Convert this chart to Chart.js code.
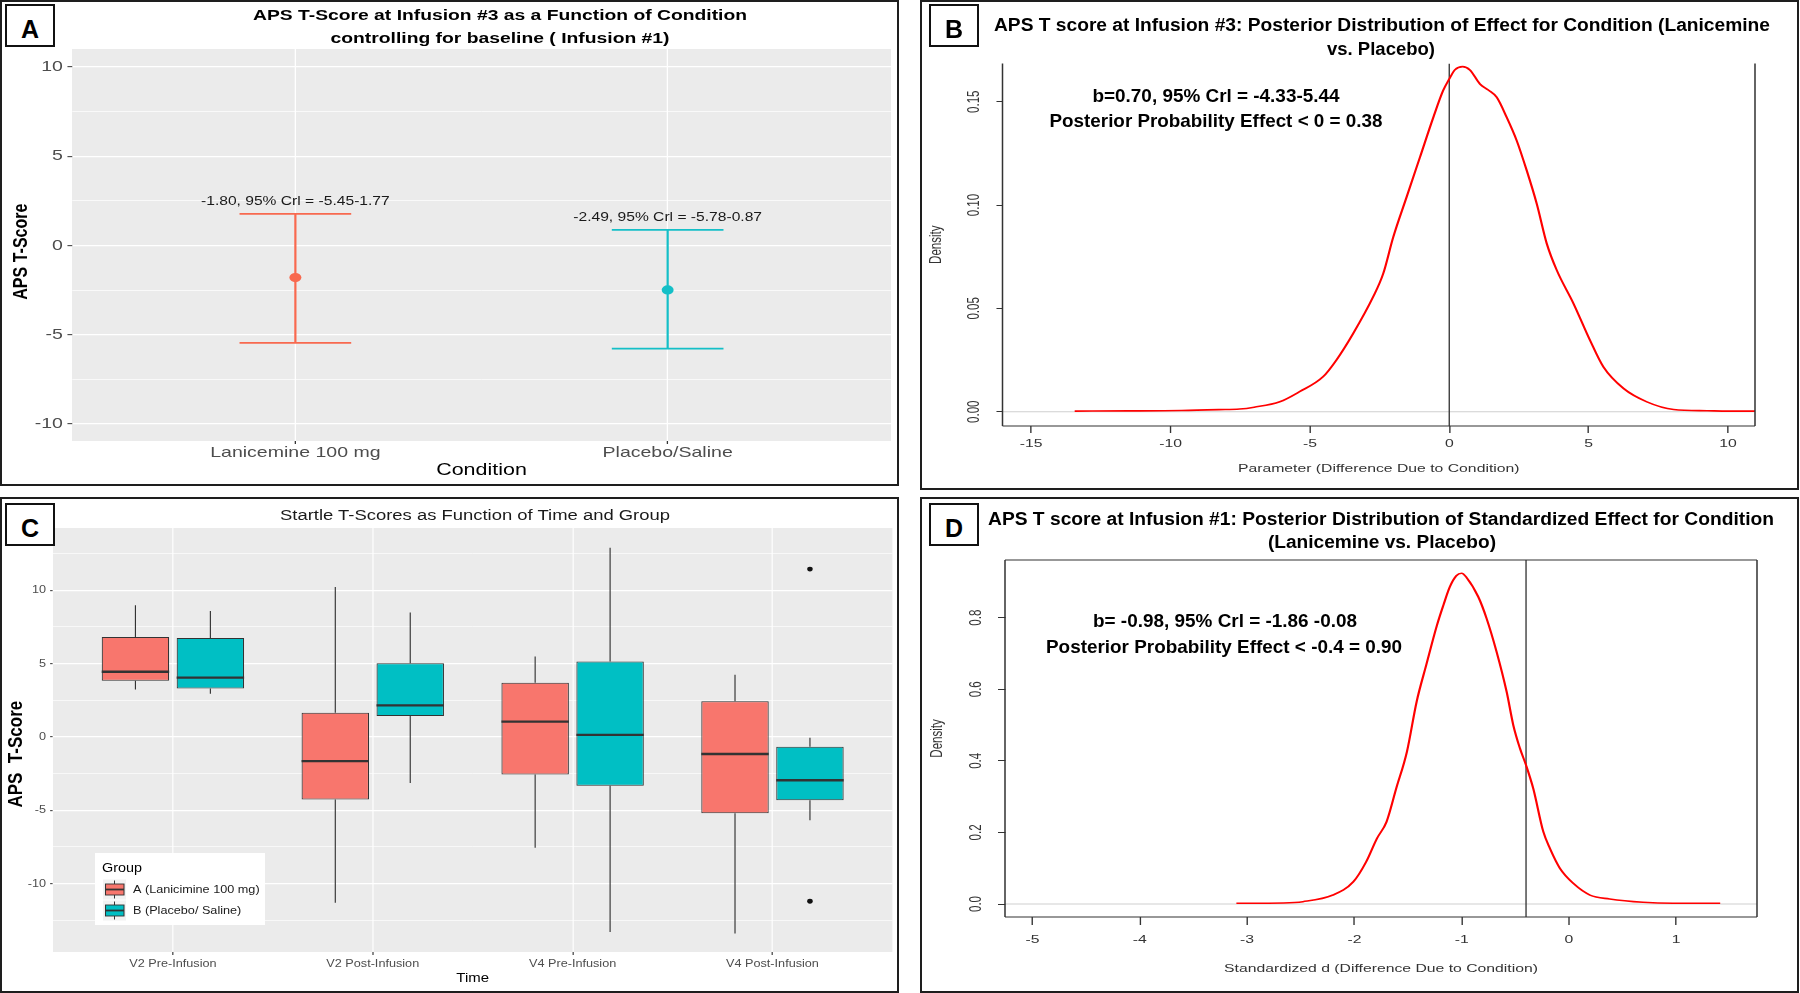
<!DOCTYPE html>
<html>
<head>
<meta charset="utf-8">
<script src="https://cdn.jsdelivr.net/npm/chart.js@4.4.1/dist/chart.umd.min.js"></script>
<style>
  body { margin: 0; width: 1800px; height: 993px; background: #fff; position: relative; overflow: hidden; }
  .panel { position: absolute; border: 2px solid #1e1e1e; box-sizing: border-box; background: #fff; }
  .panel canvas { position: absolute; left: 0; top: 0; }
  .letterbox { position: absolute; width: 50px; height: 43px; border: 2px solid #111; box-sizing: border-box; background: #fff; }
  .txt { position: absolute; white-space: nowrap; line-height: 1; }
</style>
</head>
<body>
<div class="panel" style="left:0;top:0;width:899px;height:486px"><canvas id="cA"></canvas></div>
<div class="panel" style="left:920px;top:0;width:879px;height:490px"><canvas id="cB"></canvas></div>
<div class="panel" style="left:0;top:497px;width:899px;height:496px"><canvas id="cC"></canvas></div>
<div class="panel" style="left:920px;top:497px;width:879px;height:496px"><canvas id="cD"></canvas></div>

<script>
// ---- panel A: APS T-score at infusion #3 ----
const conditions = ['Lanicemine 100 mg', 'Placebo/Saline'];
const aEst = [-1.80, -2.49];
const aLow = [-5.45, -5.78];
const aHigh = [1.77, 0.87];
const aLabels = ['-1.80, 95% Crl = -5.45-1.77', '-2.49, 95% Crl = -5.78-0.87'];
const aYTicks = [-10, -7.5, -5, -2.5, 0, 2.5, 5, 7.5, 10];

// ---- panel B: posterior of effect ----
const bX = [-13.44, -11.5, -9.6, -8.27, -7.52, -7.0, -6.08, -5.37, -4.53, -4.05, -3.45, -2.73, -2.37, -2.01,
  -1.53, -1.05, -0.57, -0.22, 0, 0.2, 0.48, 0.74, 1.1, 1.4, 1.7, 2.06, 2.42, 2.78, 3.14, 3.5, 3.86, 4.46,
  5.05, 5.53, 6.25, 7.09, 8.05, 9.25, 10.0, 10.97];
const bY = [0.0003, 0.0004, 0.0006, 0.001, 0.0013, 0.0022, 0.0048, 0.0097, 0.0169, 0.025, 0.0378, 0.0556, 0.0668, 0.0845,
  0.1039, 0.1232, 0.1425, 0.1554, 0.161, 0.1654, 0.167, 0.1654, 0.1586, 0.1557, 0.1522, 0.1425, 0.1312, 0.1167, 0.1006, 0.0813, 0.0684, 0.0523,
  0.0346, 0.0217, 0.0113, 0.0048, 0.0011, 0.0005, 0.0003, 0.0003];
const bXTicks = [-15, -10, -5, 0, 5, 10];
const bYTicks = [0, 0.05, 0.10, 0.15];
const bXRange = [-16.03, 10.97];
const bYRange = [-0.0069, 0.1685];
const bRef = 0;

// ---- panel C: startle boxplots ----
const times = ['V2 Pre-Infusion', 'V2 Post-Infusion', 'V4 Pre-Infusion', 'V4 Post-Infusion'];
const groups = ['A (Lanicimine 100 mg)', 'B (Placebo/ Saline)'];
const cLoA  = [3.23, -11.3, -7.55, -13.4];
const cQ1A  = [3.84, -4.27, -2.55, -5.2];
const cMedA = [4.45, -1.64, 1.05, -1.16];
const cQ3A  = [6.82, 1.66, 3.70, 2.43];
const cHiA  = [8.98, 10.23, 5.48, 4.25];
const cLoB  = [2.95, -3.14, -13.3, -5.68];
const cQ1B  = [3.30, 1.43, -3.32, -4.32];
const cMedB = [4.05, 2.16, 0.14, -2.95];
const cQ3B  = [6.75, 5.02, 5.14, -0.66];
const cHiB  = [8.59, 8.48, 12.9, -0.05];
const cOutTime = [3, 3];          // index into times, group B
const cOutVal = [11.45, -11.2];
const cYTicks = [-12.5, -10, -7.5, -5, -2.5, 0, 2.5, 5, 7.5, 10, 12.5];

// ---- panel D: posterior of standardized effect ----
const dX = [-3.1, -2.66, -2.48, -2.2, -2.01, -1.89, -1.79, -1.70, -1.61, -1.51, -1.42, -1.33, -1.23, -1.17, -1.11,
  -1.05, -1.0, -0.954, -0.845, -0.768, -0.675, -0.581, -0.519, -0.457, -0.40, -0.333, -0.239, -0.177, -0.084,
  0.04, 0.196, 0.38, 0.69, 0.97, 1.41];
const dY = [0.002, 0.003, 0.0065, 0.025, 0.062, 0.118, 0.183, 0.23, 0.323, 0.426, 0.565, 0.668, 0.779, 0.835, 0.886,
  0.917, 0.924, 0.912, 0.858, 0.798, 0.705, 0.593, 0.50, 0.435, 0.388, 0.323, 0.202, 0.155, 0.0996,
  0.0577, 0.025, 0.014, 0.0047, 0.002, 0.002];
const dXTicks = [-5, -4, -3, -2, -1, 0, 1];
const dYTicks = [0, 0.2, 0.4, 0.6, 0.8];
const dXRange = [-5.257, 1.753];
const dYRange = [-0.0363, 0.961];
const dRef = -0.4;

Chart.defaults.font.family = '"Liberation Sans", Arial, sans-serif';
Chart.defaults.color = '#333';

const colA = ['#F8694F', '#14BFC7'];
const colC = ['#F8766D', '#00BFC4'];
const dodge = [-0.1875, 0.1875];
const halfBox = 0.16875;

// the source figure is stretched sideways, so each chart is drawn narrow and widened
const sOf = c => c.canvas.width / c.width;
const stretch = { id: 'stretch', beforeDraw: c => c.ctx.setTransform(sOf(c), 0, 0, 1, 0, 0) };
const greyBg = { id: 'greyBg', beforeDraw: c => {
  const a = c.chartArea, ctx = c.ctx;
  ctx.save(); ctx.fillStyle = '#EBEBEB'; ctx.fillRect(a.left, a.top, a.width, a.height); ctx.restore();
}};
const frame = sides => ({ id: 'frame', afterDatasetsDraw: c => {
  const a = c.chartArea, ctx = c.ctx;
  ctx.save(); ctx.strokeStyle = '#333'; ctx.lineWidth = 1.1; ctx.beginPath();
  if (sides.includes('l')) { ctx.moveTo(a.left, a.top); ctx.lineTo(a.left, a.bottom); }
  if (sides.includes('b')) { ctx.moveTo(a.left, a.bottom); ctx.lineTo(a.right, a.bottom); }
  if (sides.includes('r')) { ctx.moveTo(a.right, a.top); ctx.lineTo(a.right, a.bottom); }
  if (sides.includes('t')) { ctx.moveTo(a.left, a.top); ctx.lineTo(a.right, a.top); }
  ctx.stroke(); ctx.restore();
}});

function makePanel(id, area, sx, cfg) {
  const cv = document.getElementById(id);
  const fw = cv.parentElement.clientWidth, fh = cv.parentElement.clientHeight;
  const lw = Math.round(fw / sx), s = fw / lw;
  cv.width = lw; cv.height = fh;
  cv.style.width = fw + 'px'; cv.style.height = fh + 'px';
  const o = cfg.options;
  o.responsive = false; o.animation = false; o.devicePixelRatio = 1;
  o.layout = { padding: { left: 0, top: area.t, right: lw - area.r / s, bottom: 0 } };
  o.scales.x.afterFit = sc => { sc.height = fh - area.b; };
  o.scales.y.afterFit = sc => { sc.width = area.l / s; };
  o.plugins = Object.assign({ legend: { display: false }, tooltip: { enabled: false } }, o.plugins || {});
  cfg.plugins = [stretch].concat(cfg.plugins || []);
  const chart = new Chart(cv, cfg);
  cv.width = fw;
  chart.draw();
  return chart;
}

const setTicks = arr => sc => { sc.ticks = arr.map(v => ({ value: v })); };
const major5 = v => Math.abs(v % 5) < 1e-9;

// ---------------- A ----------------
const aDatasets = conditions.map((c, i) => ({
  data: [{ x: i + 1 - 0.15, y: aHigh[i] }, { x: i + 1 + 0.15, y: aHigh[i] }, { x: i + 1, y: null },
         { x: i + 1, y: aHigh[i] }, { x: i + 1, y: aLow[i] }, { x: i + 1, y: null },
         { x: i + 1 - 0.15, y: aLow[i] }, { x: i + 1 + 0.15, y: aLow[i] }],
  showLine: true, spanGaps: false, borderColor: colA[i], borderWidth: 1.7, pointRadius: 0
}));
aDatasets.unshift({
  data: conditions.map((c, i) => ({ x: i + 1, y: aEst[i] })),
  pointRadius: 4.6, pointBackgroundColor: colA, pointBorderColor: colA, pointBorderWidth: 0
});

makePanel('cA', { l: 70, r: 893, t: 47, b: 439 }, 1.3, {
  type: 'scatter',
  data: { datasets: aDatasets },
  options: {
    scales: {
      x: {
        type: 'linear', min: 0.4, max: 2.6, bounds: 'data', afterBuildTicks: setTicks([1, 2]),
        ticks: { callback: v => conditions[v - 1], color: '#4D4D4D', font: { size: 15 }, padding: 0, autoSkip: false, maxRotation: 0 },
        grid: { color: '#FFFFFF', lineWidth: 1, tickColor: '#333', tickLength: 3, tickWidth: 1 },
        border: { display: false },
        title: { display: true, text: 'Condition', color: '#000', font: { size: 16.5 }, padding: { top: 0, bottom: 4 } }
      },
      y: {
        type: 'linear', min: -10.95, max: 11, bounds: 'data', afterBuildTicks: setTicks(aYTicks),
        ticks: { callback: v => major5(v) ? v : '', color: '#4D4D4D', font: { size: 15 }, padding: 3.5 },
        grid: {
          color: '#FFFFFF', lineWidth: c => c.tick && major5(c.tick.value) ? 1.3 : 0.6,
          tickColor: c => c.tick && major5(c.tick.value) ? '#333' : 'rgba(0,0,0,0)', tickLength: 3.5, tickWidth: 1
        },
        border: { display: false },
        title: { display: true, text: 'APS T-Score   ', color: '#000', font: { size: 16, weight: 'bold' }, padding: { top: 5.5, bottom: 0 } }
      }
    }
  },
  plugins: [greyBg, { id: 'ciText', afterDatasetsDraw: c => {
    const ctx = c.ctx, xs = c.scales.x, ys = c.scales.y;
    ctx.save(); ctx.font = '12px "Liberation Sans", Arial, sans-serif'; ctx.fillStyle = '#1a1a1a';
    ctx.textAlign = 'center'; ctx.textBaseline = 'alphabetic';
    aLabels.forEach((t, i) => ctx.fillText(t, xs.getPixelForValue(i + 1), ys.getPixelForValue(aHigh[i]) - 9));
    ctx.restore();
  }}]
});

// ---------------- B ----------------
function densityConfig(xs, ys, xr, yr, ref, xTicks, yTicks, yFmt, xTitle, tickX, tickY, padX, padY, titlePadX, titlePadY) {
  return {
    type: 'scatter',
    data: { datasets: [
      { data: xs.map((x, i) => ({ x, y: ys[i] })), showLine: true, borderColor: '#FF0000', borderWidth: 1.6,
        pointRadius: 0, cubicInterpolationMode: 'monotone' },
      { data: [{ x: ref, y: yr[0] }, { x: ref, y: yr[1] }], showLine: true, borderColor: '#3a3a3a', borderWidth: 1, pointRadius: 0 },
      { data: [{ x: xr[0], y: 0 }, { x: xr[1], y: 0 }], showLine: true, borderColor: '#CFCFCF', borderWidth: 1.2, pointRadius: 0 }
    ]},
    options: {
      scales: {
        x: {
          type: 'linear', min: xr[0], max: xr[1], bounds: 'data', afterBuildTicks: setTicks(xTicks),
          ticks: { callback: v => String(v), color: '#333', font: { size: 11.5 }, padding: padX, autoSkip: false, maxRotation: 0 },
          grid: { drawOnChartArea: false, tickColor: '#333', tickLength: tickX, tickWidth: 1 },
          border: { display: false },
          title: { display: true, text: xTitle, color: '#333', font: { size: 11.5 }, padding: { top: 0, bottom: titlePadX } }
        },
        y: {
          type: 'linear', min: yr[0], max: yr[1], bounds: 'data', afterBuildTicks: setTicks(yTicks),
          ticks: { callback: yFmt, color: '#333', font: { size: 11.5 }, padding: padY, minRotation: 90, maxRotation: 90, crossAlign: 'center' },
          grid: { drawOnChartArea: false, tickColor: '#333', tickLength: tickY, tickWidth: 1 },
          border: { display: false },
          title: { display: true, text: 'Density', color: '#333', font: { size: 11.5 }, padding: { top: titlePadY, bottom: 0 } }
        }
      }
    }
  };
}

const cfgB = densityConfig(bX, bY, bXRange, bYRange, bRef, bXTicks, bYTicks, v => v.toFixed(2),
  'Parameter (Difference Due to Condition)', 7, 4.4, 4, 4.5, 12, 3.6);
cfgB.plugins = [frame('lbr')];
makePanel('cB', { l: 80.5, r: 833, t: 61.5, b: 424 }, 1.37, cfgB);

// ---------------- C ----------------
function whiskers(lo, q1, q3, hi, dx) {
  const pts = [];
  lo.forEach((v, i) => {
    const x = i + 1 + dx;
    pts.push({ x, y: v }, { x, y: q1[i] }, { x, y: null }, { x, y: q3[i] }, { x, y: hi[i] }, { x, y: null });
  });
  return pts;
}
function medians(med, dx) {
  const pts = [];
  med.forEach((v, i) => {
    const x = i + 1 + dx;
    pts.push({ x: x - halfBox, y: v }, { x: x + halfBox, y: v }, { x, y: null });
  });
  return pts;
}
const boxSet = (q1, q3, k) => ({
  type: 'bar', data: times.map((t, i) => ({ x: i + 1, y: [q1[i], q3[i]] })),
  backgroundColor: colC[k], borderColor: '#333', borderWidth: 1, borderSkipped: false,
  barPercentage: 0.9, categoryPercentage: 0.75, order: 2
});
const lineSet = (pts, w) => ({ type: 'scatter', data: pts, showLine: true, spanGaps: false,
  borderColor: '#333', borderWidth: w, pointRadius: 0 });

const legendC = { id: 'legendC', afterDraw: c => {
  const s = sOf(c), X = v => v / s, ctx = c.ctx;
  ctx.save();
  ctx.fillStyle = '#FFFFFF'; ctx.fillRect(X(93), 354, X(263) - X(93), 72);
  ctx.fillStyle = '#000'; ctx.font = '12.5px "Liberation Sans", Arial, sans-serif'; ctx.textBaseline = 'middle';
  ctx.fillText('Group', X(100), 369.5);
  groups.forEach((g, k) => {
    const cy = 390.5 + k * 21;
    ctx.fillStyle = '#F2F2F2'; ctx.fillRect(X(101), cy - 10, X(124) - X(101), 20);
    ctx.strokeStyle = '#333'; ctx.lineWidth = 0.9;
    ctx.beginPath(); ctx.moveTo(X(112.5), cy - 9); ctx.lineTo(X(112.5), cy + 9); ctx.stroke();
    ctx.fillStyle = colC[k]; ctx.fillRect(X(103.5), cy - 5.5, X(122) - X(103.5), 11);
    ctx.strokeRect(X(103.5), cy - 5.5, X(122) - X(103.5), 11);
    ctx.lineWidth = 1.8; ctx.beginPath(); ctx.moveTo(X(103.5), cy); ctx.lineTo(X(122), cy); ctx.stroke();
    ctx.fillStyle = '#1a1a1a'; ctx.font = '11px "Liberation Sans", Arial, sans-serif';
    ctx.fillText(g, X(131), cy);
  });
  ctx.restore();
}};

makePanel('cC', { l: 51, r: 893, t: 29, b: 453 }, 1.15, {
  type: 'bar',
  data: { datasets: [
    Object.assign(lineSet(medians(cMedA, dodge[0]), 2.3), { order: 0 }),
    Object.assign(lineSet(medians(cMedB, dodge[1]), 2.3), { order: 0 }),
    { type: 'scatter', data: cOutTime.map((t, i) => ({ x: t + 1 + dodge[1], y: cOutVal[i] })),
      pointRadius: 2.4, pointBackgroundColor: '#111', pointBorderWidth: 0, order: 0 },
    boxSet(cQ1A, cQ3A, 0),
    boxSet(cQ1B, cQ3B, 1),
    Object.assign(lineSet(whiskers(cLoA, cQ1A, cQ3A, cHiA, dodge[0]), 1), { order: 3 }),
    Object.assign(lineSet(whiskers(cLoB, cQ1B, cQ3B, cHiB, dodge[1]), 1), { order: 3 })
  ]},
  options: {
    scales: {
      x: {
        type: 'linear', min: 0.4, max: 4.6, offset: false, bounds: 'data', afterBuildTicks: setTicks([1, 2, 3, 4]),
        ticks: { callback: v => times[v - 1], color: '#4D4D4D', font: { size: 11 }, padding: 2.4, autoSkip: false, maxRotation: 0 },
        grid: { offset: false, color: '#FFFFFF', lineWidth: 1, tickColor: '#333', tickLength: 3, tickWidth: 1 },
        border: { display: false },
        title: { display: true, text: 'Time', color: '#000', font: { size: 13 }, padding: { top: 0, bottom: 5.2 } }
      },
      y: {
        type: 'linear', min: -14.66, max: 14.25, bounds: 'data', afterBuildTicks: setTicks(cYTicks),
        ticks: { callback: v => major5(v) ? v : '', color: '#4D4D4D', font: { size: 11 }, padding: 3.6 },
        grid: {
          color: '#FFFFFF', lineWidth: c => c.tick && major5(c.tick.value) ? 1.3 : 0.6,
          tickColor: c => c.tick && major5(c.tick.value) ? '#333' : 'rgba(0,0,0,0)', tickLength: 2.5, tickWidth: 1
        },
        border: { display: false },
        title: { display: true, text: 'APS  T-Score      ', color: '#000', font: { size: 17, weight: 'bold' }, padding: { top: 2.8, bottom: 0 } }
      }
    }
  },
  plugins: [greyBg, legendC]
});

// ---------------- D ----------------
const cfgD = densityConfig(dX, dY, dXRange, dYRange, dRef, dXTicks, dYTicks, v => v.toFixed(1),
  'Standardized d (Difference Due to Condition)', 8, 5.1, 8, 7.4, 15, 4.4);
cfgD.plugins = [frame('lbrt')];
makePanel('cD', { l: 83, r: 835, t: 61, b: 418 }, 1.37, cfgD);

// ---------------- overlay text (panel letters, titles, annotations) ----------------
function addText(text, cx, cy, w, weight, size, family, color) {
  const d = document.createElement('div');
  d.className = 'txt'; d.textContent = text;
  d.style.fontWeight = weight; d.style.fontSize = size + 'px'; d.style.fontFamily = family;
  d.style.color = color || '#000';
  document.body.appendChild(d);
  const k = w ? w / d.getBoundingClientRect().width : 1;
  d.style.left = cx + 'px'; d.style.top = (cy - 0.09 * size) + 'px';
  d.style.transform = `translate(-50%, -50%) scaleX(${k})`;
}
function addLetter(ch, x, y) {
  const b = document.createElement('div');
  b.className = 'letterbox'; b.style.left = x + 'px'; b.style.top = y + 'px';
  document.body.appendChild(b);
  addText(ch, x + 25, y + 27, 0, 'bold', 25, '"Liberation Sans Narrow", "Liberation Sans", Arial, sans-serif');
}
const sans = '"Liberation Sans", Arial, sans-serif';
const narrow = '"Liberation Sans Narrow", "Liberation Sans", Arial, sans-serif';

addText('APS T-Score at Infusion #3 as a Function of Condition', 499.5, 16, 494, 'bold', 14.5, sans);
addText('controlling for baseline ( Infusion #1)', 499.5, 39.5, 339, 'bold', 14.5, sans);
addText('APS T score at Infusion #3: Posterior Distribution of Effect for Condition (Lanicemine', 1382, 28, 776, 'bold', 17.5, narrow);
addText('vs. Placebo)', 1381, 52, 108, 'bold', 17.5, narrow);
addText('b=0.70, 95% Crl = -4.33-5.44', 1216, 98, 247, 'bold', 18.5, narrow);
addText('Posterior Probability Effect < 0 = 0.38', 1216, 123, 333, 'bold', 18.5, narrow);
addText('Startle T-Scores as Function of Time and Group', 475, 516, 390, 'normal', 15.5, sans, '#1a1a1a');
addText('APS T score at Infusion #1: Posterior Distribution of Standardized Effect for Condition', 1381, 522, 786, 'bold', 17.5, narrow);
addText('(Lanicemine  vs. Placebo)', 1381.5, 545, 228, 'bold', 17.5, narrow);
addText('b= -0.98, 95% Crl = -1.86 -0.08', 1225, 623, 264, 'bold', 18.5, narrow);
addText('Posterior Probability Effect < -0.4 = 0.90', 1224, 649, 356, 'bold', 18.5, narrow);

addLetter('A', 5, 4);
addLetter('B', 929, 4);
addLetter('C', 5, 503);
addLetter('D', 929, 503);
</script>
</body>
</html>
